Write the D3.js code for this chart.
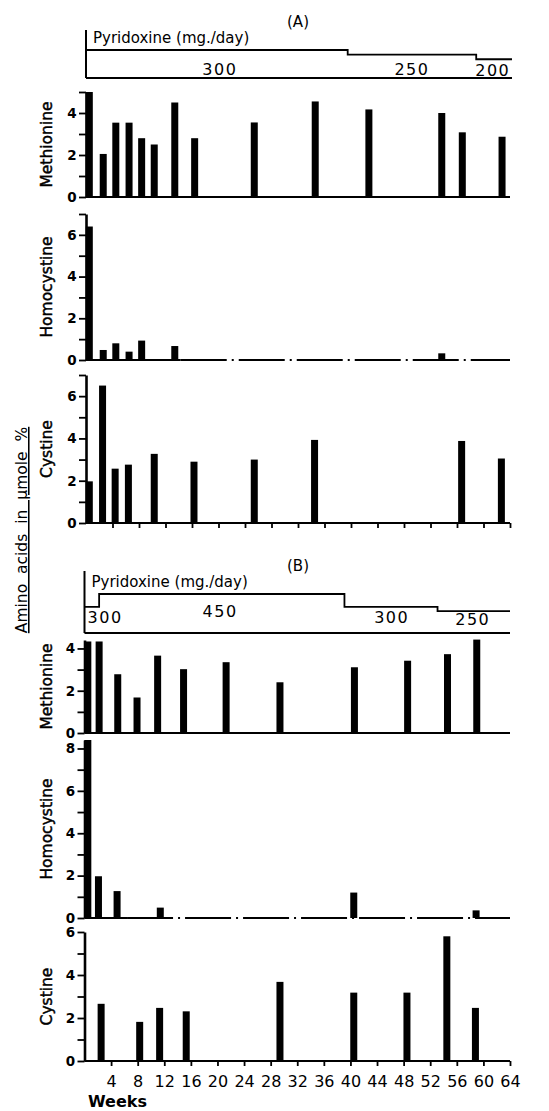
<!DOCTYPE html>
<html>
<head>
<meta charset="utf-8">
<script src="https://cdn.jsdelivr.net/npm/d3@7"></script>
<style>
body { margin: 0; background: #fff; }
text { font-family: "DejaVu Sans", sans-serif; fill: #000; }
</style>
</head>
<body>
<div id="chart"></div>
<script>
// x axis
const weekTicks = [4, 8, 12, 16, 20, 24, 28, 32, 36, 40, 44, 48, 52, 56, 60, 64];

// (A) pyridoxine dose steps
const doseA_from = [0, 39.5, 58.9];
const doseA_to = [39.5, 58.9, 64.3];
const doseA_mg = [300, 250, 200];
const doseA_labelWeek = [20.2, 49.2, 61.4];

// (A) amino acids
const metA_weeks = [0.5, 2.6, 4.5, 6.5, 8.4, 10.3, 13.4, 16.4, 25.4, 34.6, 42.7, 53.7, 56.8, 62.8];
const metA_values = [5.0, 2.05, 3.54, 3.54, 2.8, 2.5, 4.5, 2.8, 3.55, 4.55, 4.17, 4.0, 3.08, 2.87];
const homA_weeks = [0.5, 2.6, 4.5, 6.5, 8.4, 13.4, 53.7];
const homA_values = [6.4, 0.48, 0.8, 0.4, 0.93, 0.67, 0.32];
const cysA_weeks = [0.5, 2.5, 4.4, 6.4, 10.3, 16.3, 25.4, 34.5, 56.7, 62.7];
const cysA_values = [1.97, 6.5, 2.57, 2.76, 3.27, 2.9, 3.0, 3.93, 3.88, 3.05];

// (B) pyridoxine dose steps
const doseB_from = [0, 2.2, 39.1, 53.1];
const doseB_to = [2.2, 39.1, 53.1, 64];
const doseB_mg = [300, 450, 300, 250];
const doseB_labelWeek = [3.1, 20.4, 46.2, 58.4];

// (B) amino acids
const metB_weeks = [0.5, 2.2, 5.0, 7.9, 11.0, 14.9, 21.3, 29.4, 40.6, 48.6, 54.6, 59.0];
const metB_values = [4.33, 4.33, 2.78, 1.68, 3.66, 3.02, 3.35, 2.4, 3.11, 3.42, 3.73, 4.42];
const homB_weeks = [0.5, 2.1, 4.9, 11.4, 40.5, 58.9];
const homB_values = [8.4, 1.97, 1.27, 0.49, 1.2, 0.36];
const cysB_weeks = [2.5, 8.3, 11.3, 15.3, 29.4, 40.5, 48.5, 54.5, 58.8];
const cysB_values = [2.66, 1.82, 2.47, 2.31, 3.68, 3.18, 3.18, 5.8, 2.47];

const W = 549, H = 1111;
const barW = 7;

const svg = d3.select("#chart").append("svg")
    .attr("width", W)
    .attr("height", H);

const xA = d3.scaleLinear().domain([0, 64]).range([86, 510]);
const xB = d3.scaleLinear().domain([0, 64]).range([84.5, 510]);

function drawDose(x, top, bottom, y, from, to, mg, labelWeek, labelY, letter, letterY, titleY) {
    const g = svg.append("g");
    const pts = [];
    from.forEach((f, i) => {
        pts.push([x(f), y(mg[i])]);
        pts.push([x(to[i]), y(mg[i])]);
    });
    g.append("path")
        .attr("d", d3.line()(pts))
        .attr("fill", "none")
        .attr("stroke", "#000")
        .attr("stroke-width", 1.8);
    g.append("line")
        .attr("x1", x(0)).attr("x2", x(0))
        .attr("y1", top).attr("y2", bottom)
        .attr("stroke", "#000").attr("stroke-width", 2);
    g.append("line")
        .attr("x1", x(0)).attr("x2", x(d3.max(to)))
        .attr("y1", bottom).attr("y2", bottom)
        .attr("stroke", "#000").attr("stroke-width", 2.2);
    g.selectAll("text.dose")
        .data(mg)
        .join("text")
        .attr("class", "dose")
        .attr("x", (d, i) => x(labelWeek[i]))
        .attr("y", (d, i) => labelY[i])
        .attr("text-anchor", "middle")
        .attr("font-size", 16)
        .attr("letter-spacing", 1.5)
        .text(d => d);
    g.append("text")
        .attr("x", x(0) + 7)
        .attr("y", titleY)
        .attr("font-size", 15)
        .text("Pyridoxine (mg./day)");
    g.append("text")
        .attr("x", 298)
        .attr("y", letterY)
        .attr("text-anchor", "middle")
        .attr("font-size", 15)
        .text(letter);
}

function drawPanel(p) {
    const x = p.x;
    const y = d3.scaleLinear().domain([0, p.max]).range([p.y0, p.y1]);
    const g = svg.append("g");

    // baseline (homocystine has a dash-dot run where nothing was found)
    if (p.dashFrom !== undefined) {
        g.append("line")
            .attr("x1", x(0)).attr("x2", x(p.dashFrom))
            .attr("y1", p.y0).attr("y2", p.y0)
            .attr("stroke", "#000").attr("stroke-width", 2.2);
        g.append("line")
            .attr("x1", x(p.dashFrom)).attr("x2", x(64))
            .attr("y1", p.y0).attr("y2", p.y0)
            .attr("stroke", "#000").attr("stroke-width", 2)
            .attr("stroke-dasharray", "46,5,2,5");
    } else {
        g.append("line")
            .attr("x1", x(0)).attr("x2", x(64))
            .attr("y1", p.y0).attr("y2", p.y0)
            .attr("stroke", "#000").attr("stroke-width", 2.2);
    }

    g.selectAll("rect")
        .data(p.weeks)
        .join("rect")
        .attr("x", d => x(d) - barW / 2)
        .attr("width", barW)
        .attr("y", (d, i) => y(p.values[i]))
        .attr("height", (d, i) => p.y0 - y(p.values[i]))
        .attr("fill", "#000");

    const ticks = d3.range(0, Math.floor(p.max) + 1);
    const ax = g.append("g")
        .attr("transform", `translate(${x(0)},0)`)
        .call(d3.axisLeft(y)
            .tickValues(ticks)
            .tickSize(7)
            .tickSizeOuter(0)
            .tickFormat(d => d % 2 === 0 ? d : ""));
    ax.select(".domain").attr("stroke-width", 2.6);
    ax.selectAll(".tick line").attr("stroke-width", 1.8);
    ax.selectAll(".tick text")
        .attr("x", -14)
        .attr("text-anchor", "middle")
        .attr("font-size", 13.5)
        .attr("font-weight", "bold")
        .attr("font-family", "DejaVu Sans");

    g.append("text")
        .attr("transform", `translate(52,${(p.y0 + p.y1) / 2}) rotate(-90)`)
        .attr("text-anchor", "middle")
        .attr("font-size", 15.5)
        .attr("stroke", "#000")
        .attr("stroke-width", 0.45)
        .text(p.name);

    if (p.xTicks) {
        const bx = g.append("g")
            .attr("transform", `translate(0,${p.y0})`)
            .call(d3.axisBottom(x)
                .tickValues(weekTicks)
                .tickSize(5)
                .tickSizeOuter(0)
                .tickFormat(p.xLabels ? d => d : ""));
        bx.select(".domain").remove();
        bx.selectAll(".tick line").attr("stroke-width", 1.8);
        bx.selectAll(".tick text")
            .attr("dy", 0)
            .attr("y", 26)
            .attr("font-size", 16)
            .attr("font-family", "DejaVu Sans");
    }
}

// (A)
const doseYA = d3.scaleLinear().domain([0, 300]).range([77.7, 50]);
drawDose(xA, 30, 78, doseYA, doseA_from, doseA_to, doseA_mg, doseA_labelWeek,
    [75, 75, 76], "(A)", 27, 43);

drawPanel({ name: "Methionine", x: xA, weeks: metA_weeks, values: metA_values, max: 5, y0: 197, y1: 92 });
drawPanel({ name: "Homocystine", x: xA, weeks: homA_weeks, values: homA_values, max: 7, y0: 360, y1: 214, dashFrom: 14.3 });
drawPanel({ name: "Cystine", x: xA, weeks: cysA_weeks, values: cysA_values, max: 7, y0: 523, y1: 375, xTicks: true });

// (B)
const doseYB = d3.scaleLinear().domain([0, 450]).range([632.7, 594]);
drawDose(xB, 571, 633, doseYB, doseB_from, doseB_to, doseB_mg, doseB_labelWeek,
    [623, 617, 623, 625], "(B)", 571, 587);

drawPanel({ name: "Methionine", x: xB, weeks: metB_weeks, values: metB_values, max: 4.4, y0: 733, y1: 640 });
drawPanel({ name: "Homocystine", x: xB, weeks: homB_weeks, values: homB_values, max: 8.4, y0: 918, y1: 740, dashFrom: 6.4 });
drawPanel({ name: "Cystine", x: xB, weeks: cysB_weeks, values: cysB_values, max: 6, y0: 1061, y1: 932, xTicks: true, xLabels: true });

svg.append("text")
    .attr("x", 88)
    .attr("y", 1107)
    .attr("font-size", 16)
    .attr("font-weight", "bold")
    .text("Weeks");

// left side label, underlined
svg.append("text")
    .attr("transform", "translate(27,530) rotate(-90)")
    .attr("text-anchor", "middle")
    .attr("font-size", 15.5)
    .attr("word-spacing", 5)
    .attr("text-decoration", "underline")
    .text("Amino acids in \u00b5mole %");
</script>
</body>
</html>
